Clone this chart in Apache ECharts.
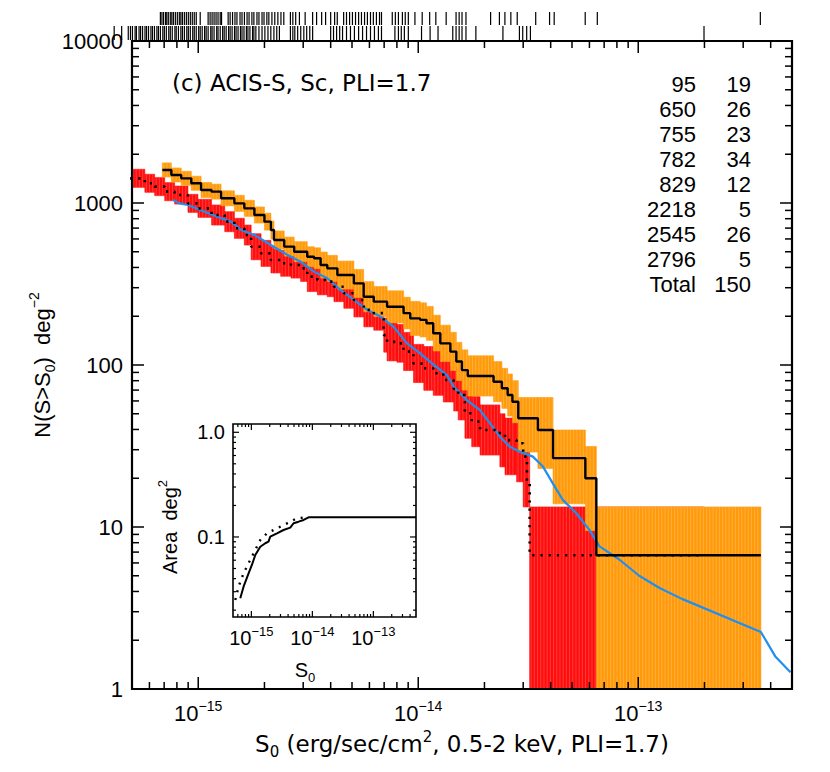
<!DOCTYPE html>
<html><head><meta charset="utf-8">
<script src="https://cdn.jsdelivr.net/npm/echarts@6/dist/echarts.min.js"></script>
<style>html,body{margin:0;padding:0;background:#fff}#c{width:830px;height:772px}</style>
</head><body><div id="c"></div>
<script>
// ---------- data ----------
// orange sample (solid black step = N(>S), band = errors)
const orangeS  = [6.87e-16,7.55e-16,8.37e-16,9.30e-16,1.03e-15,1.15e-15,1.27e-15,1.46e-15,1.62e-15,1.80e-15,2.00e-15,2.14e-15,2.21e-15,2.46e-15,2.73e-15,3.13e-15,3.36e-15,3.60e-15,3.86e-15,4.29e-15,5.10e-15,5.65e-15,6.28e-15,7.22e-15,8.58e-15,9.20e-15,1.02e-14,1.09e-14,1.17e-14,1.26e-14,1.40e-14,1.49e-14,1.58e-14,1.68e-14,2.20e-14,2.40e-14,2.55e-14,2.68e-14,2.85e-14,3.50e-14,4.10e-14,5.75e-14,6.45e-14];
const orangeN  = [1600,1489,1420,1324,1203,1175,1069,995,927,843,767,681,591,538,500,466,456,414,395,359,319,264,246,229,209,194,190,181,157,136,121,105,93,85.5,78.8,71.8,65.3,59.3,46.9,39.7,26.6,20.0,6.7];
const orangeLo = [1448,1348,1285,1198,1082,1057,961,888,827,752,680,599,520,470,434,404,393,344,328,294,261,213,199,182,167,152,149,142,122,105,92.4,80.2,70.0,64.3,59.3,54.0,48.4,44.0,29,23,13.9,9.5,0.5];
const orangeHi = [1768,1645,1569,1463,1338,1307,1189,1115,1039,945,865,774,672,616,577,537,529,498,475,438,389,327,305,287,262,247,242,230,203,176,159,138,124,114,105,95.4,88.0,80.0,63,63,39.7,31.4,13.3];
const orangeEnd = 3.61e-13;
// red sample (dotted black step, red band)
const redS  = [4.5e-16,5.72e-16,6.34e-16,7.04e-16,7.81e-16,8.98e-16,9.97e-16,1.15e-15,1.32e-15,1.46e-15,1.62e-15,1.74e-15,1.93e-15,2.14e-15,2.37e-15,2.64e-15,2.92e-15,3.13e-15,3.48e-15,3.86e-15,4.14e-15,4.59e-15,5.10e-15,5.66e-15,6.28e-15,6.97e-15,7.22e-15,8.01e-15,8.58e-15,9.52e-15,1.06e-14,1.17e-14,1.30e-14,1.45e-14,1.52e-14,1.63e-14,1.75e-14,1.91e-14,2.35e-14,2.48e-14,2.80e-14,3.00e-14,3.12e-14,3.21e-14];
const redN  = [1420,1324,1262,1175,1120,995,927,843,767,698,634,537,489,445,425,414,395,351,335,327,304,277,252,219,209,153,139,136,121,102,95.4,88.9,80.8,71.1,65.3,50.4,44.7,39.7,37.9,34.4,32.9,27.2,18.7,6.7];
const redLo = [1249,1164,1110,1033,985,875,815,731,665,605,550,446,406,370,353,344,328,284,271,264,246,224,198,172,164,120,106,104,92.4,77.9,69.8,65.0,59.1,52.0,45.8,35.3,31.3,27.8,23.5,21,19,13.3,13.3,0.5];
const redHi = [1615,1505,1435,1336,1273,1131,1054,972,884,805,731,646,588,535,511,498,475,435,415,405,376,343,321,279,266,195,182,178,159,134,130,122,110,97.2,93.2,71.9,63.8,56.7,50,47,45,39.7,39.7,13.3];
const redEnd = 1.99e-13;
// blue reference curve
const blueS = [7.69e-16,8.23e-16,8.98e-16,1.07e-15,1.27e-15,1.41e-15,1.57e-15,1.80e-15,2.14e-15,2.55e-15,2.92e-15,3.36e-15,3.86e-15,4.44e-15,5.10e-15,5.86e-15,6.73e-15,7.73e-15,8.89e-15,1.02e-14,1.17e-14,1.35e-14,1.45e-14,1.66e-14,1.91e-14,2.12e-14,2.35e-14,2.61e-14,2.89e-14,3.32e-14,3.69e-14,4.09e-14,4.54e-14,5.22e-14,6.00e-14,6.67e-14,8.20e-14,1.01e-13,1.25e-13,1.58e-13,3.61e-13,4.21e-13,4.92e-13];
const blueN = [1044,995,972,884,805,767,681,634,550,477,434,377,343,290,252,219,199,172,136,118,101,86.7,73.4,60.8,52.7,43.6,36.1,31.3,29.2,27.2,23.6,18.6,14.7,12.2,9.6,7.6,6.3,5.0,4.2,3.6,2.25,1.58,1.27];
// inset: survey area vs flux
const areaSolidS = [6.58e-16,7.45e-16,9.0e-16,1.02e-15,1.16e-15,1.40e-15,1.69e-15,1.91e-15,2.04e-15,2.63e-15,3.37e-15,4.34e-15,4.92e-15,5.94e-15,7.18e-15,8.67e-15,1.05e-14,5e-13];
const areaSolidA = [0.0260,0.0335,0.0450,0.0540,0.0673,0.0807,0.0871,0.0902,0.1007,0.1084,0.1166,0.1227,0.1352,0.140,0.1453,0.1542,0.1542,0.1542];
const areaDotS = [5.45e-16,6.16e-16,7.45e-16,9.0e-16,1.09e-15,1.40e-15,1.80e-15,2.63e-15,3.84e-15,5.6e-15,8.15e-15];
const areaDotA = [0.0250,0.0335,0.0450,0.0561,0.0699,0.0935,0.1084,0.121,0.135,0.151,0.154];
// source fluxes (decades above 1e-15) shown as ticks above the plot
const srcDexUpper = [-0.172,-0.165,-0.158,-0.149,-0.143,-0.136,-0.127,-0.120,-0.113,-0.104,-0.095,-0.086,-0.079,-0.072,-0.063,-0.054,-0.045,-0.036,-0.027,-0.018,-0.009,0.009,0.045,0.054,0.063,0.072,0.081,0.090,0.100,0.106,0.136,0.145,0.156,0.167,0.176,0.190,0.199,0.210,0.222,0.231,0.244,0.253,0.267,0.276,0.290,0.299,0.312,0.321,0.335,0.348,0.362,0.376,0.389,0.419,0.430,0.443,0.460,0.486,0.520,0.538,0.561,0.579,0.602,0.620,0.632,0.661,0.674,0.688,0.701,0.715,0.729,0.742,0.756,0.769,0.783,0.796,0.810,0.824,0.833,0.882,0.896,0.910,0.928,0.941,0.955,0.985,1.018,1.052,1.080,1.127,1.172,1.186,1.199,1.217,1.329,1.369,1.394,1.421,1.450,1.534,1.597,1.618,1.759,1.814,2.555];
const srcDexLower = [-0.382,-0.348,-0.318,-0.308,-0.299,-0.287,-0.281,-0.269,-0.262,-0.253,-0.242,-0.235,-0.226,-0.215,-0.208,-0.199,-0.188,-0.181,-0.172,-0.161,-0.154,-0.145,-0.134,-0.127,-0.118,-0.106,-0.100,-0.090,-0.079,-0.072,-0.063,-0.052,-0.045,-0.036,-0.025,-0.018,-0.009,0.002,0.009,0.018,0.029,0.036,0.045,0.057,0.063,0.072,0.084,0.090,0.100,0.111,0.118,0.127,0.138,0.145,0.154,0.165,0.172,0.181,0.192,0.199,0.208,0.219,0.226,0.235,0.247,0.253,0.262,0.276,0.290,0.303,0.317,0.330,0.344,0.357,0.369,0.419,0.430,0.439,0.452,0.466,0.480,0.493,0.507,0.520,0.602,0.615,0.629,0.643,0.656,0.674,0.692,0.710,0.729,0.747,0.765,0.783,0.801,0.819,0.833,0.894,0.910,0.923,0.937,0.955,1.015,1.054,1.090,1.157,1.172,1.186,1.199,1.217,1.262,1.385,1.460,1.475,1.493,1.510,2.299];
// table
const tableIds    = ['95','650','755','782','829','2218','2545','2796','Total'];
const tableCounts = ['19','26','23','34','12','5','26','5','150'];
// axis ticks / labels
const xMajor = [1e-15,1e-14,1e-13];
const xMajorExp = ['\u221215','\u221214','\u221213'];
const xDecades = [1e-16,1e-15,1e-14,1e-13];
const yMajor = [1,10,100,1000,10000];
const yMajorLabels = ['1','10','100','1000','10000'];
const yDecades = [1,10,100,1000];
const insetYMajor = [0.1,1.0];
const insetYLabels = ['0.1','1.0'];
const insetYDecades = [0.01,0.1,1];
const minorMult = [2,3,4,5,6,7,8,9];

// ---------- chart ----------
const FONT = "'Liberation Sans', Arial, sans-serif";
const WFONT = "'DejaVu Sans', 'Liberation Sans', sans-serif";
const chart = echarts.init(document.getElementById('c'), null, {renderer:'svg', width:830, height:772});

const bandData = (S, lo, hi, end) => S.map((s,i)=>[s, i+1<S.length?S[i+1]:end, lo[i], hi[i]]);
const stepData = (S, N, end) => { const d = S.map((s,i)=>[s,N[i]]); d.push([end, N[N.length-1]]); return d; };
const pairs = (a,b) => a.map((v,i)=>[v,b[i]]);

function bandSeries(data, color, stripe, z){
  return {type:'custom', xAxisIndex:0, yAxisIndex:0, z, clip:true, data, silent:true,
    encode:{x:[0,1], y:[2,3]},
    renderItem(params, api){
      const a = api.coord([api.value(0), api.value(3)]);
      const b = api.coord([api.value(1), api.value(2)]);
      const ch = [{type:'rect', shape:{x:a[0], y:a[1], width:b[0]-a[0], height:b[1]-a[1]},
              style:{fill:color, stroke:color, lineWidth:0.6}}];
      for (let x = a[0] + 1.5; x < b[0] - 0.5; x += 3.2) {
        ch.push({type:'line', shape:{x1:x, y1:a[1], x2:x, y2:b[1]}, style:{stroke:stripe, lineWidth:0.7}});
      }
      return {type:'group', children:ch};
    }};
}

function richLabel(base, sup){
  return {
    b:{fontSize:base, fontFamily:FONT, fill:'#000', color:'#000', lineHeight:base+6, verticalAlign:'middle'},
    s:{fontSize:sup, fontFamily:FONT, fill:'#000', color:'#000', lineHeight:sup, verticalAlign:'top'}
  };
}

function decoRenderer(o){
  return function(params, api){
    const cs = params.coordSys, ch = [];
    const L = cs.x, T = cs.y, R = cs.x+cs.width, B = cs.y+cs.height;
    const line = (x1,y1,x2,y2)=>ch.push({type:'line', shape:{x1,y1,x2,y2}, style:{stroke:'#000', lineWidth:o.tickW}});
    const xt = [], yt = [];
    o.xMajor.forEach(v=>xt.push([v,o.majLen]));
    o.xDecades.forEach(d=>minorMult.forEach(m=>xt.push([m*d,o.minLen])));
    o.yMajor.forEach(v=>yt.push([v,o.majLen]));
    o.yDecades.forEach(d=>minorMult.forEach(m=>yt.push([m*d,o.minLen])));
    xt.forEach(([v,len])=>{ const px = api.coord([v,o.yRef])[0]; if(px<L+1||px>R-1) return; line(px,B,px,B-len); line(px,T,px,T+len); });
    yt.forEach(([v,len])=>{ const py = api.coord([o.xRef,v])[1]; if(py<T-0.5||py>B+0.5) return; line(L,py,L+len,py); line(R,py,R-len,py); });
    o.xMajor.forEach((v,i)=>{
      const px = api.coord([v,o.yRef])[0];
      ch.push({type:'text', style:{text:'{b|10}{s|'+o.xExp[i]+'}', x:px, y:B+o.xLabGap, align:'center', verticalAlign:'top', rich:richLabel(o.labFont, o.supFont)}});
    });
    o.yMajor.forEach((v,i)=>{
      const py = api.coord([o.xRef,v])[1];
      ch.push({type:'text', style:{text:o.yLabels[i], x:L-o.yLabGap, y:py, align:'right', verticalAlign:'middle', fontSize:o.labFont, fontFamily:FONT, fill:'#000'}});
    });
    ch.push({type:'rect', shape:{x:L,y:T,width:cs.width,height:cs.height}, style:{fill:'none', stroke:'#000', lineWidth:o.frameW}});
    return {type:'group', children:ch};
  };
}

function srcTicks(dex, y0, y1, z){
  return {type:'custom', xAxisIndex:0, yAxisIndex:0, z, clip:false, silent:true,
    data: dex.map(d=>[1e-15*Math.pow(10,d), 10]),
    renderItem(params, api){
      const px = api.coord([api.value(0), 10])[0];
      const T = params.coordSys.y;
      return {type:'line', shape:{x1:px, y1:T-y0, x2:px, y2:T-y1}, style:{stroke:'#000', lineWidth:1.2}};
    }};
}

const txt = (size, fam) => ({fontSize:size, fontFamily:fam, fill:'#000', color:'#000'});

const option = {
  animation:false,
  backgroundColor:'#fff',
  grid:[
    {left:132, top:41, width:660, height:648, show:false},
    {left:233, top:424, width:183, height:193, show:false}
  ],
  xAxis:[
    {type:'log', logBase:10, gridIndex:0, min:5e-16, max:5e-13, show:false},
    {type:'log', logBase:10, gridIndex:1, min:5e-16, max:5e-13, show:false}
  ],
  yAxis:[
    {type:'log', logBase:10, gridIndex:0, min:1, max:10000, show:false},
    {type:'log', logBase:10, gridIndex:1, min:0.0172, max:1.2, show:false}
  ],
  series:[
    bandSeries(bandData(redS, redLo, redHi, redEnd), '#ff0d0d', 'rgba(255,140,140,0.55)', 2),
    bandSeries(bandData(orangeS, orangeLo, orangeHi, orangeEnd), '#ff9a0a', 'rgba(255,205,130,0.6)', 3),
    {type:'line', xAxisIndex:0, yAxisIndex:0, z:4, data:pairs(blueS, blueN), showSymbol:false, silent:true,
      lineStyle:{color:'#1f8ff0', width:2.2}},
    {type:'line', xAxisIndex:0, yAxisIndex:0, z:5, step:'end', data:stepData(redS, redN, redEnd), showSymbol:false, silent:true,
      lineStyle:{color:'#000', width:2.6, type:[2.2,6]}},
    {type:'line', xAxisIndex:0, yAxisIndex:0, z:6, step:'end', data:stepData(orangeS, orangeN, orangeEnd), showSymbol:false, silent:true,
      lineStyle:{color:'#000', width:2.4}},
    srcTicks(srcDexUpper, 29, 16, 7),
    srcTicks(srcDexLower, 15, 1, 7),
    {type:'custom', xAxisIndex:0, yAxisIndex:0, z:8, clip:false, silent:true, data:[[1e-14,10]],
      renderItem: decoRenderer({xMajor, xExp:xMajorExp, xDecades, yMajor, yLabels:yMajorLabels, yDecades,
        yRef:10, xRef:1e-14, majLen:12, minLen:7, tickW:1.5, frameW:2.2, labFont:22, supFont:14, xLabGap:10, yLabGap:9})},
    // inset
    {type:'custom', xAxisIndex:1, yAxisIndex:1, z:10, clip:false, silent:true, data:[[1e-14,0.1]],
      renderItem(params){ const cs = params.coordSys;
        return {type:'rect', shape:{x:cs.x, y:cs.y, width:cs.width, height:cs.height}, style:{fill:'#fff'}}; }},
    {type:'line', xAxisIndex:1, yAxisIndex:1, z:11, data:pairs(areaDotS, areaDotA), showSymbol:false, silent:true,
      lineStyle:{color:'#000', width:2.4, type:[2,6]}},
    {type:'line', xAxisIndex:1, yAxisIndex:1, z:12, data:pairs(areaSolidS, areaSolidA), showSymbol:false, silent:true,
      lineStyle:{color:'#000', width:2}},
    {type:'custom', xAxisIndex:1, yAxisIndex:1, z:13, clip:false, silent:true, data:[[1e-14,0.1]],
      renderItem: decoRenderer({xMajor, xExp:xMajorExp, xDecades, yMajor:insetYMajor, yLabels:insetYLabels, yDecades:insetYDecades,
        yRef:0.1, xRef:1e-14, majLen:6, minLen:3, tickW:1.2, frameW:1.6, labFont:20, supFont:13, xLabGap:8, yLabGap:8})}
  ],
  graphic:[
    {type:'text', x:172, y:83, z:20, style:Object.assign({text:'(c) ACIS-S, Sc, PLI=1.7', align:'left', verticalAlign:'middle'}, txt(23, WFONT))},
    ...tableIds.map((t,i)=>({type:'text', x:696, y:84+25*i, z:20, style:Object.assign({text:t, align:'right', verticalAlign:'middle'}, txt(22, FONT))})),
    ...tableCounts.map((t,i)=>({type:'text', x:751, y:84+25*i, z:20, style:Object.assign({text:t, align:'right', verticalAlign:'middle'}, txt(22, FONT))})),
    {type:'text', x:462, y:744, z:20, style:{text:'{t|S}{d|0}{t| (erg/sec/cm}{u|2}{t|, 0.5-2 keV, PLI=1.7)}', align:'center', verticalAlign:'middle',
      rich:{t:Object.assign({lineHeight:30, verticalAlign:'middle'}, txt(23, WFONT)),
            d:Object.assign({lineHeight:14, verticalAlign:'bottom'}, txt(15, WFONT)),
            u:Object.assign({lineHeight:14, verticalAlign:'top'}, txt(15, WFONT))}}},
    {type:'text', x:42, y:365, z:20, rotation:Math.PI/2, style:{text:'{t|N(S>S}{d|0}{t|)  deg}{u|\u22122}', align:'center', verticalAlign:'middle',
      rich:{t:Object.assign({lineHeight:30, verticalAlign:'middle'}, txt(22, FONT)),
            d:Object.assign({lineHeight:14, verticalAlign:'bottom'}, txt(14, FONT)),
            u:Object.assign({lineHeight:14, verticalAlign:'top'}, txt(14, FONT))}}},
    {type:'text', x:305, y:670, z:20, style:{text:'{t|S}{d|0}', align:'center', verticalAlign:'middle',
      rich:{t:Object.assign({lineHeight:28, verticalAlign:'middle'}, txt(20, FONT)),
            d:Object.assign({lineHeight:13, verticalAlign:'bottom'}, txt(13, FONT))}}},
    {type:'text', x:170, y:527, z:20, rotation:Math.PI/2, style:{text:'{t|Area  deg}{u|2}', align:'center', verticalAlign:'middle',
      rich:{t:Object.assign({lineHeight:28, verticalAlign:'middle'}, txt(20, FONT)),
            u:Object.assign({lineHeight:13, verticalAlign:'top'}, txt(13, FONT))}}}
  ]
};
chart.setOption(option);
</script></body></html>
